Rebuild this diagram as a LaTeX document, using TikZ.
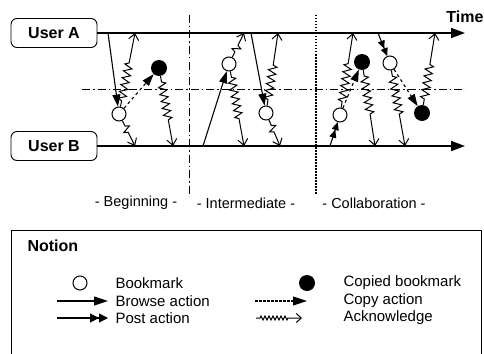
\documentclass[tikz,border=0pt]{standalone}
\usepackage{fontspec}
\setmainfont{Liberation Sans}
\usetikzlibrary{positioning,arrows.meta,decorations.pathmorphing}

\begin{document}
\begin{tikzpicture}[x=1pt, y=-1pt, font=\fontsize{15}{17}\selectfont,
    user/.style={draw, line width=0.9pt, rounded corners=6pt, minimum width=86pt, minimum height=29pt, font=\fontsize{16}{18}\selectfont\bfseries},
    bmark/.style={draw, line width=1pt, circle, fill=white, minimum size=14pt, inner sep=0pt},
    copied/.style={circle, fill=black, minimum size=16pt, inner sep=0pt},
    timeline/.style={line width=1.6pt, -{Triangle[length=14pt,width=10pt]}},
    browse/.style={line width=1.1pt, -{Triangle[length=12pt,width=8pt]}},
    post/.style={line width=1.1pt, -{Triangle[length=8pt,width=7pt]Triangle[length=8pt,width=7pt]}},
    copy/.style={browse, dashed},
    ack/.style={line width=1pt, -{Straight Barb[length=6pt,width=10pt]}, decorate,
        decoration={zigzag, amplitude=4pt, segment length=7pt, pre length=6pt, post length=#1}},
    ack/.default=30pt,
    phase/.style={font=\fontsize{14.5}{16}\selectfont}]
    \useasboundingbox (0,0) rectangle (484,353);

    % users and time lines
    \node[user] (userA) at (54,33) {User A};
    \node[user] (userB) at (54,146) {User B};
    \coordinate (endA) at (465,33);
    \coordinate (endB) at (465,146);
    \draw[timeline] (userA) -- (endA);
    \draw[timeline] (userB) -- (endB);
    \node[font=\fontsize{16}{18}\selectfont\bfseries] (time) at (465,17) {Time};

    % phase borders
    \draw[line width=1pt, dash pattern=on 8pt off 3pt on 1.5pt off 3pt] (82,89) -- (465,89);
    \draw[line width=1pt, dash pattern=on 8pt off 3pt on 1.5pt off 3pt] (189,15) -- (189,195);
    \draw[line width=1.2pt, dash pattern=on 1.5pt off 1.5pt] (316,15) -- (316,195);

    \node[phase] (begin) at (136,203) {- Beginning -};
    \node[phase] (inter) at (246,203) {- Intermediate -};
    \node[phase] (collab) at (374,203) {- Collaboration -};

    % points on the time lines
    \coordinate (a1) at (108,33);
    \coordinate (a2) at (135,33);
    \coordinate (a3) at (244,33);
    \coordinate (a4) at (251,33);
    \coordinate (a5) at (278,33);
    \coordinate (a6) at (353,33);
    \coordinate (a7) at (378,33);
    \coordinate (a8) at (435,33);
    \coordinate (b1) at (135,146);
    \coordinate (b2) at (173,146);
    \coordinate (b3) at (203,146);
    \coordinate (b4) at (244,146);
    \coordinate (b5) at (280,146);
    \coordinate (b6) at (330,146);
    \coordinate (b7) at (375,146);
    \coordinate (b8) at (405,146);

    % bookmarks
    \node[bmark] (bm1) at (119,114) {};
    \node[bmark] (bm2) at (229,64) {};
    \node[bmark] (bm3) at (266,113) {};
    \node[bmark] (bm4) at (340,115) {};
    \node[bmark] (bm5) at (390,63) {};
    \node[copied] (cp1) at (159,68) {};
    \node[copied] (cp2) at (362,62) {};
    \node[copied] (cp3) at (422,113) {};

    % beginning
    \draw[browse] (a1) -- (bm1);
    \draw[ack] (bm1) -- (a2);
    \draw[ack=15pt] (bm1) -- (b1);
    \draw[copy] (bm1) -- (cp1);
    \draw[ack=25pt] (cp1) -- (b2);

    % intermediate
    \draw[browse] (b3) -- (bm2);
    \draw[ack=12pt] (bm2) -- (a3);
    \draw[ack=25pt] (bm2) -- (b4);
    \draw[browse] (a4) -- (bm3);
    \draw[ack] (bm3) -- (a5);
    \draw[ack=15pt] (bm3) -- (b5);

    % collaboration
    \draw[post] (b6) -- (bm4);
    \draw[ack] (bm4) -- (a6);
    \draw[copy] (bm4) -- (cp2);
    \draw[ack] (cp2) -- (b7);
    \draw[post] (a7) -- (bm5);
    \draw[ack] (bm5) -- (b8);
    \draw[copy] (bm5) -- (cp3);
    \draw[ack] (cp3) -- (a8);

    % legend
    \draw[line width=1pt] (11,360) -- (11,230) -- (481,230) -- (481,360);
    \node[anchor=west, font=\fontsize{16}{18}\selectfont\bfseries] (notion) at (24,246) {Notion};

    \node[bmark] (lbm) at (80,283) {};
    \node[anchor=west] (lbmtext) at (112,283) {Bookmark};
    \node[copied] (lcp) at (307,283) {};
    \node[anchor=west] (lcptext) at (340,283) {Copied bookmark};

    \coordinate (lbrowse) at (57,301);
    \node[anchor=west] (lbrowsetext) at (112,301) {Browse action};
    \draw[browse, -{Triangle[length=14pt,width=9pt]}] (lbrowse) -- ([xshift=-4pt]lbrowsetext.west);
    \coordinate (lcopy) at (255,301);
    \node[anchor=west] (lcopytext) at (340,301) {Copy action};
    \draw[line width=1.1pt, dash pattern=on 2.5pt off 1.5pt, -{Triangle[length=14pt,width=9pt]}] (lcopy) -- ([xshift=-33pt]lcopytext.west);

    \coordinate (lpost) at (57,318);
    \node[anchor=west] (lposttext) at (112,318) {Post action};
    \draw[post, -{Triangle[length=9pt,width=9pt]Triangle[length=9pt,width=9pt]}] (lpost) -- ([xshift=-4pt]lposttext.west);
    \coordinate (lack) at (256,318);
    \node[anchor=west] (lacktext) at (340,318) {Acknowledge};
    \draw[line width=1pt, -{Straight Barb[length=5pt,width=9pt]}, decorate,
        decoration={zigzag, amplitude=2pt, segment length=4pt, pre length=4pt, post length=14pt}]
        (lack) -- ([xshift=-38pt]lacktext.west);
\end{tikzpicture}
\end{document}
